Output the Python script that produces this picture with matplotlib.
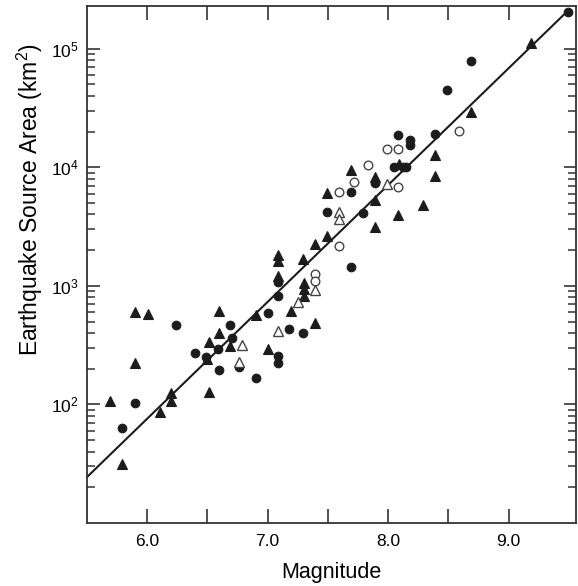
import numpy as np
import matplotlib
matplotlib.use("Agg")
import matplotlib.pyplot as plt
from matplotlib.ticker import FixedLocator, NullFormatter

plt.rcParams['font.family'] = ['Liberation Sans', 'DejaVu Sans']
plt.rcParams['mathtext.fontset'] = 'custom'
plt.rcParams['mathtext.rm'] = 'Liberation Sans'
plt.rcParams['mathtext.it'] = 'Liberation Sans'

# Filled circles: magnitude, source area (km^2)
fc_mag = [5.90, 5.79, 6.24, 6.40, 6.49, 6.59, 6.60, 6.69, 6.70, 6.76, 6.90, 7.00,
          7.09, 7.09, 7.18, 7.29, 7.09, 7.09, 7.49, 7.69, 7.69, 7.79, 7.89, 8.05,
          8.12, 8.15, 8.08, 8.18, 8.18, 8.39, 8.49, 8.69, 9.49]
fc_area = [103, 63, 468, 270, 253, 292, 197, 466, 364, 205, 166, 596,
           824, 1070, 437, 404, 255, 223, 4180, 6200, 1445, 4150, 7350, 9980,
           10000, 10100, 18800, 17100, 15400, 19200, 45000, 78800, 204800]

# Filled triangles
ft_mag = [5.69, 5.79, 5.90, 6.01, 5.90, 6.11, 6.20, 6.20, 6.60, 6.60, 6.51, 6.50,
          6.69, 6.51, 6.90, 7.00, 7.09, 7.09, 7.09, 7.19, 7.29, 7.30, 7.30, 7.30,
          7.39, 7.39, 7.49, 7.49, 7.69, 7.89, 7.89, 7.89, 8.09, 8.08, 8.29, 8.39,
          8.39, 8.69, 9.19]
ft_area = [107, 31.7, 607, 575, 223, 86, 125, 107, 614, 401, 337, 241,
           312, 128, 570, 292, 1820, 1610, 1200, 614, 1670, 1060, 933, 824,
           2250, 490, 2660, 6080, 9550, 8260, 5330, 3150, 10700, 3990, 4790, 12600,
           8380, 29500, 112000]

# Open circles
oc_mag = [7.39, 7.39, 7.59, 7.59, 7.72, 7.83, 7.99, 8.08, 8.08, 8.59]
oc_area = [1260, 1100, 6200, 2160, 7500, 10400, 14300, 14300, 6780, 20400]

# Open triangles
ot_mag = [6.76, 6.79, 7.09, 7.25, 7.39, 7.59, 7.59, 7.99]
ot_area = [230, 316, 419, 733, 922, 4180, 3660, 7210]

# Fitted relation: log10(A) = slope * M + intercept
fit_slope = 0.985
fit_intercept = -4.03
fit_mag_range = [5.5, 9.49]

x_major = [6.0, 7.0, 8.0, 9.0]
x_labels = ["6.0", "7.0", "8.0", "9.0"]
x_minor = [6.5, 7.5, 8.5]
y_major = [1e2, 1e3, 1e4, 1e5]
y_minor = [k * 10.0 ** n for n in range(1, 5) for k in range(2, 10)]

ink = '#1c1c1c'

fig = plt.figure(figsize=(5.78, 5.86), dpi=100)
ax = fig.add_axes([0.1505, 0.1075, 0.8460, 0.8825])

fm = np.array(fit_mag_range)
ax.plot(fm, 10 ** (fit_slope * fm + fit_intercept), color=ink, lw=1.5, zorder=2)

ax.plot(fc_mag, fc_area, 'o', ms=6.2, mfc=ink, mec=ink, mew=0.8, ls='none', zorder=3)
ax.plot(ft_mag, ft_area, '^', ms=7.0, mfc=ink, mec=ink, mew=0.8, ls='none', zorder=3)
ax.plot(oc_mag, oc_area, 'o', ms=6.2, mfc='white', mec='#444444', mew=1.0, ls='none', zorder=4)
ax.plot(ot_mag, ot_area, '^', ms=7.0, mfc='white', mec='#444444', mew=1.0, ls='none', zorder=4)

ax.set_yscale('log')
ax.set_xlim(5.5, 9.56)
ax.set_ylim(10, 2.3e5)

ax.xaxis.set_major_locator(FixedLocator(x_major))
ax.set_xticklabels(x_labels)
ax.xaxis.set_minor_locator(FixedLocator(x_minor))
ax.yaxis.set_major_locator(FixedLocator(y_major))
ax.yaxis.set_minor_locator(FixedLocator(y_minor))
ax.yaxis.set_minor_formatter(NullFormatter())

ax.tick_params(axis='x', which='both', direction='in', top=True, bottom=True,
               length=10, width=1.2, color='#333333', labelsize=12.5, pad=8)
ax.tick_params(axis='y', which='major', direction='in', left=True, right=True,
               length=9, width=1.2, color='#333333', labelsize=12.5, pad=6)
ax.tick_params(axis='y', which='minor', direction='in', left=True, right=True,
               length=5.5, width=1.1, color='#333333')

for s in ax.spines.values():
    s.set_linewidth(1.3)
    s.set_color('#333333')

ax.set_xlabel('Magnitude', fontsize=15.5, labelpad=9)
ax.set_ylabel('Earthquake Source Area (km$^2$)', fontsize=16.5)
ax.yaxis.set_label_coords(-0.085, 0.625)

fig.savefig('out.png', dpi=100)
